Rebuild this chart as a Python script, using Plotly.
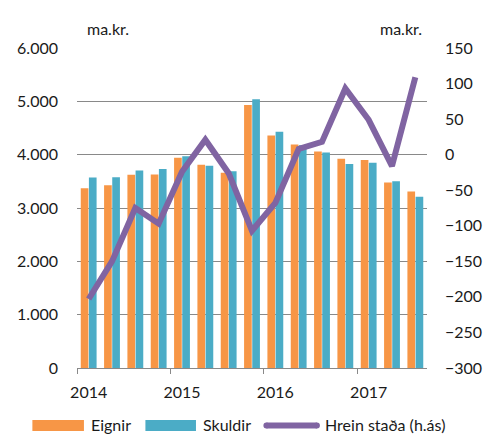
import plotly.graph_objects as go

quarters = ["2014Q1", "2014Q2", "2014Q3", "2014Q4",
            "2015Q1", "2015Q2", "2015Q3", "2015Q4",
            "2016Q1", "2016Q2", "2016Q3", "2016Q4",
            "2017Q1", "2017Q2", "2017Q3"]
eignir = [3370, 3425, 3625, 3630, 3940, 3810, 3660, 4930, 4360, 4190, 4060, 3925, 3900, 3480, 3310]
skuldir = [3570, 3575, 3705, 3730, 3970, 3790, 3690, 5040, 4430, 4175, 4040, 3825, 3850, 3500, 3210]
hrein = [-203, -150, -75, -97, -24, 21, -26, -107, -68, 8, 18, 93, 49, -16, 109]
year_labels = ["2014", "2015", "2016", "2017"]
year_pos = [0, 4, 8, 12]
year_bounds = [-0.5, 3.5, 7.5, 11.5]

ORANGE = "#F79646"
TEAL = "#4BACC6"
PURPLE = "#8064A2"
GRID = "#898989"
TXT = "#1a1a1a"
FONT = "Lato"

W, H = 494, 434
L, R, T, B = 77, 64, 47.5, 66
pw, ph = W - L - R, H - T - B

def px(x):
    return (x - L) / pw

def py(y):
    return (H - B - y) / ph

x = list(range(len(quarters)))

fig = go.Figure()
fig.add_trace(go.Bar(x=x, y=eignir, name="Eignir", marker=dict(color=ORANGE, line=dict(width=0)),
                     showlegend=False))
fig.add_trace(go.Bar(x=x, y=skuldir, name="Skuldir", marker=dict(color=TEAL, line=dict(width=0)),
                     showlegend=False))
fig.add_trace(go.Scatter(x=x, y=hrein, name="Hrein staða (h.ás)", yaxis="y2", mode="lines",
                         line=dict(color=PURPLE, width=6), showlegend=False))

LY = 425.5
shapes = [
    dict(type="rect", xref="paper", yref="paper", x0=px(32), x1=px(84), y0=py(LY + 5.5), y1=py(LY - 5.5),
         fillcolor=ORANGE, line=dict(width=0)),
    dict(type="rect", xref="paper", yref="paper", x0=px(146), x1=px(197), y0=py(LY + 5.5), y1=py(LY - 5.5),
         fillcolor=TEAL, line=dict(width=0)),
    dict(type="line", xref="paper", yref="paper", x0=px(268), x1=px(319), y0=py(LY), y1=py(LY),
         line=dict(color=PURPLE, width=6)),
    dict(type="circle", xref="paper", yref="paper", x0=px(265), x1=px(271), y0=py(LY + 3), y1=py(LY - 3),
         fillcolor=PURPLE, line=dict(width=0)),
    dict(type="circle", xref="paper", yref="paper", x0=px(316), x1=px(322), y0=py(LY + 3), y1=py(LY - 3),
         fillcolor=PURPLE, line=dict(width=0)),
]

annotations = [
    dict(text="ma.kr.", xref="paper", yref="paper", x=px(85), y=py(28), xanchor="left", yanchor="middle",
         showarrow=False, font=dict(size=16, color=TXT, family=FONT)),
    dict(text="ma.kr.", xref="paper", yref="paper", x=px(427), y=py(28), xanchor="right", yanchor="middle",
         showarrow=False, font=dict(size=16, color=TXT, family=FONT)),
    dict(text="Eignir", xref="paper", yref="paper", x=px(89), y=py(LY - 1), xanchor="left", yanchor="middle",
         showarrow=False, font=dict(size=16, color=TXT, family=FONT)),
    dict(text="Skuldir", xref="paper", yref="paper", x=px(202), y=py(LY - 1), xanchor="left", yanchor="middle",
         showarrow=False, font=dict(size=16, color=TXT, family=FONT)),
    dict(text="Hrein staða (h.ás)", xref="paper", yref="paper", x=px(325), y=py(LY - 1), xanchor="left",
         yanchor="middle", showarrow=False, font=dict(size=16, color=TXT, family=FONT)),
]

fig.update_layout(
    width=W, height=H,
    margin=dict(l=L, r=R, t=T, b=B, pad=0),
    paper_bgcolor="white", plot_bgcolor="white",
    barmode="group", bargap=0.3, bargroupgap=0.06,
    font=dict(family=FONT, size=16, color=TXT),
    shapes=shapes, annotations=annotations,
    xaxis=dict(range=[-0.5, len(quarters) - 0.5], tickvals=year_pos, ticktext=year_labels,
               ticks="", ticklabelstandoff=10, showgrid=False, zeroline=False,
               showline=True, linecolor=GRID, linewidth=1.3,
               minor=dict(tickvals=year_bounds, ticks="outside", ticklen=5, tickcolor=GRID,
                          tickwidth=1.3, showgrid=False),
               tickfont=dict(size=16, color=TXT)),
    yaxis=dict(range=[0, 6000], dtick=1000, tickformat=",d", showgrid=True, gridcolor=GRID,
               gridwidth=1.3, zeroline=False, showline=False, ticks="", ticklabelstandoff=18,
               tickfont=dict(size=16, color=TXT)),
    yaxis2=dict(range=[-300, 150], dtick=50, overlaying="y", side="right", showgrid=False,
                zeroline=False, showline=False, ticks="", ticklabelstandoff=17,
                tickfont=dict(size=16, color=TXT)),
    separators=",.",
)

fig.write_html("out.html", config={"displayModeBar": False},
               post_script="document.body.style.margin='0';document.body.style.overflow='hidden';")
